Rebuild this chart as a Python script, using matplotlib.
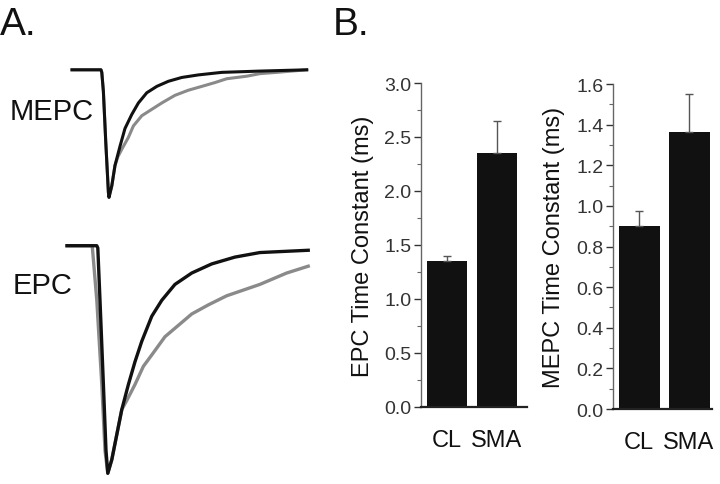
import numpy as np
import matplotlib
matplotlib.use("Agg")
import matplotlib.pyplot as plt
from matplotlib.ticker import MultipleLocator

plt.rcParams['font.family'] = ['Liberation Sans', 'DejaVu Sans']

# ---- Panel A: traces (time in ms, current normalised to peak) ----
mepc_t_cl = [0, 1.45, 1.49, 1.57, 1.69, 1.82, 1.85, 1.99, 2.15, 2.40, 2.65, 2.99,
             3.32, 3.74, 4.24, 4.82, 5.49, 6.32, 7.49, 9.40, 11.74]
mepc_i_cl = [0, 0, -0.02, -0.17, -0.57, -0.96, -1.00, -0.91, -0.75, -0.60, -0.46, -0.35,
             -0.26, -0.18, -0.13, -0.09, -0.06, -0.04, -0.02, -0.01, 0]
mepc_t_sma = [0, 1.45, 1.49, 1.57, 1.69, 1.82, 1.85, 1.99, 2.15, 2.30, 2.50, 2.82, 3.07,
              3.49, 3.99, 4.49, 5.15, 5.82, 6.49, 7.15, 7.74, 8.74, 9.40, 10.24, 11.74]
mepc_i_sma = [0, 0, -0.02, -0.17, -0.57, -0.96, -1.00, -0.91, -0.75, -0.68, -0.62, -0.53, -0.44,
              -0.36, -0.31, -0.26, -0.20, -0.16, -0.13, -0.10, -0.07, -0.05, -0.03, -0.02, 0]

epc_t_cl = [0, 1.49, 1.54, 1.65, 1.82, 1.95, 2.04, 2.24, 2.49, 2.74, 3.07, 3.40, 3.74,
            4.24, 4.74, 5.40, 6.24, 7.24, 8.40, 9.65, 12.07]
epc_i_cl = [0, 0, -0.01, -0.24, -0.61, -0.90, -1.00, -0.94, -0.83, -0.72, -0.61, -0.51, -0.42,
            -0.31, -0.24, -0.17, -0.12, -0.08, -0.05, -0.03, -0.02]
epc_t_sma = [0, 1.27, 1.27, 1.49, 1.74, 1.90, 2.04, 2.24, 2.49, 2.74, 2.99, 3.40, 3.82,
             4.24, 4.90, 5.57, 6.24, 7.07, 7.99, 9.65, 10.99, 12.07]
epc_i_sma = [0, 0, -0.01, -0.24, -0.61, -0.90, -1.00, -0.94, -0.83, -0.72, -0.68, -0.61, -0.53,
             -0.48, -0.40, -0.35, -0.30, -0.26, -0.22, -0.17, -0.12, -0.09]

# ---- Panel B: bar data ----
groups = ['CL', 'SMA']
epc_tau = [1.35, 2.35]
epc_err = [0.05, 0.30]
mepc_tau = [0.90, 1.365]
mepc_err = [0.075, 0.185]

BLACK = '#111111'
GREY = '#8a8a8a'

fig = plt.figure(figsize=(7.2, 4.85), dpi=100)

# traces
ax_m = fig.add_axes([0.1, 0.591, 0.326, 0.263])
ax_m.plot(mepc_t_sma, mepc_i_sma, color=GREY, lw=2.2, clip_on=False)
ax_m.plot(mepc_t_cl, mepc_i_cl, color=BLACK, lw=2.2, clip_on=False)
ax_m.set_xlim(0, 11.74)
ax_m.set_ylim(-1, 0)
ax_m.axis('off')

ax_e = fig.add_axes([0.0931, 0.0221, 0.335, 0.4692])
ax_e.plot(epc_t_sma, epc_i_sma, color=GREY, lw=2.4, clip_on=False)
ax_e.plot(epc_t_cl, epc_i_cl, color=BLACK, lw=2.4, clip_on=False)
ax_e.set_xlim(0, 12.07)
ax_e.set_ylim(-1, 0)
ax_e.axis('off')

fig.text(0.0, 0.928, 'A.', fontsize=28, color=BLACK, va='baseline')
fig.text(0.4625, 0.928, 'B.', fontsize=28, color=BLACK, va='baseline')
fig.text(0.014, 0.7526, 'MEPC', fontsize=21, color=BLACK, va='baseline')
fig.text(0.018, 0.394, 'EPC', fontsize=21, color=BLACK, va='baseline')


def bar_panel(rect, vals, errs, ylim, major, minor, xlim, width, ylabel, lab_x):
    ax = fig.add_axes(rect)
    x = np.arange(len(groups))
    ax.bar(x, vals, width=width, color=BLACK, edgecolor='none')
    ax.errorbar(x, vals, yerr=[np.zeros(len(errs)), errs], fmt='none',
                ecolor='#555555', elinewidth=1.0, capsize=3, capthick=1.0)
    ax.set_xlim(*xlim)
    ax.set_ylim(*ylim)
    ax.yaxis.set_major_locator(MultipleLocator(major))
    ax.yaxis.set_minor_locator(MultipleLocator(minor))
    ax.yaxis.set_major_formatter(plt.FormatStrFormatter('%.1f'))
    ax.set_xticks(x)
    ax.set_xticklabels(groups, fontsize=17, color=BLACK)
    ax.tick_params(axis='x', length=0, pad=16)
    ax.tick_params(axis='y', which='major', length=5, width=1, colors='#333333',
                   labelsize=14, pad=2)
    ax.tick_params(axis='y', which='minor', length=3, width=0.8, colors='#666666')
    for s in ['top', 'right']:
        ax.spines[s].set_visible(False)
    ax.spines['left'].set_color('#666666')
    ax.spines['left'].set_linewidth(1.0)
    ax.spines['bottom'].set_color('#222222')
    ax.spines['bottom'].set_linewidth(1.6)
    ax.set_ylabel(ylabel, fontsize=17, color=BLACK)
    ax.yaxis.set_label_coords(lab_x, 0.5)
    return ax


bar_panel([0.5847, 0.1588, 0.147, 0.668], epc_tau, epc_err, (0, 3.0), 0.5, 0.25,
          (-0.52, 1.6), 0.8, 'EPC Time Constant (ms)', -0.443)
bar_panel([0.8514, 0.1546, 0.1375, 0.670], mepc_tau, mepc_err, (0, 1.6), 0.2, 0.1,
          (-0.52, 1.46), 0.82, 'MEPC Time Constant (ms)', -0.485)

fig.savefig('out.png', dpi=100)
